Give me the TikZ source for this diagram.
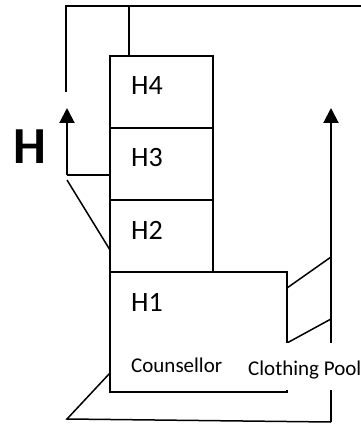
\documentclass[tikz,border=0pt]{standalone}
\usepackage{fontspec}
\setmainfont{Carlito}
\usetikzlibrary{arrows.meta,positioning}
\begin{document}
\begin{tikzpicture}[
        x=1pt, y=-1pt,
        room/.style={draw, line width=1.5pt, inner sep=0pt, outer sep=0pt, anchor=north west},
        roomLabel/.style={font=\fontsize{28}{30}\selectfont, anchor=base west, inner sep=0pt},
        useLabel/.style={font=\fontsize{21}{24}\selectfont, anchor=base west, inner sep=0pt},
        wire/.style={line width=1.5pt},
        upArrow/.style={line width=2pt, -{Triangle[width=15pt,length=15pt]}},
        >=Latex
      ]
      \useasboundingbox (0,0) rectangle (360,427);
      % the stacked rooms
      \node[room, minimum width=103pt, minimum height=72pt] (h4) at (110,56) {};
      \node[room, minimum width=103pt, minimum height=72pt] (h3) at (110,128) {};
      \node[room, minimum width=103pt, minimum height=72pt] (h2) at (110,200) {};
      \node[room, minimum width=177pt, minimum height=120pt] (h1) at (110,272) {};
      \node[roomLabel] (t4) at (131,95) {H4};
      \node[roomLabel] (t3) at (131,167) {H3};
      \node[roomLabel] (t2) at (131,239) {H2};
      \node[roomLabel] (t1) at (131,311) {H1};
      \node[useLabel] (counsellor) at (131,372) {Counsellor};
      \node[font=\bfseries\fontsize{52}{54}\selectfont, anchor=base, inner sep=0pt] (hMark) at (29.5,164) {H};

      % frame over the top
      \coordinate (topL) at (66,92);
      \coordinate (topR) at (364,6);
      \coordinate (topH4) at (129,6);
      \draw[wire] (topL) |- (topR);
      \draw[wire] (topH4) -- (h4.north west -| topH4);

      % left arrow with its two feeders
      \coordinate (lFoot) at (67,175);
      \coordinate (lTip) at (67,108);
      \coordinate (lKnee) at (67,180);
      \draw[upArrow] (lFoot) -- (lTip);
      \draw[wire] (lFoot) -- (lFoot -| h3.west);
      \draw[wire] (lKnee) -- (h2.west |- 0,250);

      % bottom frame and right arrow
      \coordinate (bL) at (67,419);
      \coordinate (bR) at (331,422);
      \coordinate (rTip) at (331,108);
      \draw[wire] (h1.west |- 0,373) -- (bL) -- (bR);
      \draw[upArrow] (bR) -- (rTip);
      \draw[wire] (h1.east |- 0,288) -- (331,257);
      \draw[wire] (h1.east |- 0,343) -- (331,319);

      \node[useLabel, fill=white, inner xsep=6pt, text height=32pt, text depth=15pt] (pool) at (242,375) {Clothing Pool};
    \end{tikzpicture}
\end{document}
